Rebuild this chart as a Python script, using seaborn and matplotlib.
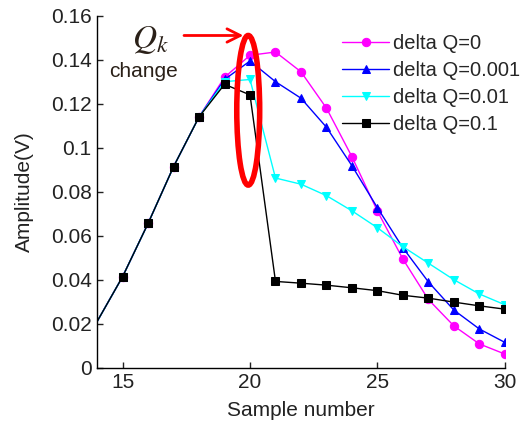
import matplotlib.pyplot as plt
import seaborn as sns
import pandas as pd
import numpy as np
from matplotlib.patches import Ellipse

sns.set_theme(style="white")
plt.rcParams['font.family'] = ['Liberation Sans', 'DejaVu Sans']
plt.rcParams['mathtext.fontset'] = 'stix'

# samples 14..30 (14 is the clipped start at the left edge)
samples = list(range(14, 31))
amp_q0 = [0.021, 0.0414, 0.0656, 0.0914, 0.114, 0.132, 0.142, 0.1435, 0.1345, 0.118, 0.0959,
          0.0712, 0.0494, 0.031, 0.019, 0.0108, 0.0062]
amp_q0001 = [0.021, 0.0414, 0.0656, 0.0914, 0.114, 0.131, 0.1394, 0.130, 0.1225, 0.1093, 0.0918,
             0.0727, 0.0545, 0.039, 0.0262, 0.0176, 0.0115]
amp_q001 = [0.021, 0.0414, 0.0656, 0.0914, 0.114, 0.130, 0.131, 0.0862, 0.0834, 0.0782, 0.0713,
            0.0636, 0.055, 0.0475, 0.040, 0.0335, 0.0286]
amp_q01 = [0.021, 0.0414, 0.0656, 0.0914, 0.114, 0.1288, 0.124, 0.0392, 0.0384, 0.0375, 0.0363,
           0.035, 0.0329, 0.0316, 0.0298, 0.0281, 0.0266]

series_names = ['delta Q=0', 'delta Q=0.001', 'delta Q=0.01', 'delta Q=0.1']
series_vals = [amp_q0, amp_q0001, amp_q001, amp_q01]
colors = ['#FF00FF', '#0000FF', '#00FFFF', '#000000']
markers = ['o', '^', 'v', 's']

fig = plt.figure(figsize=(5.28, 4.30), dpi=100)
ax = fig.add_axes([0.184, 0.145, 0.772, 0.8185])

for name, vals, c, m in zip(series_names, series_vals, colors, markers):
    df = pd.DataFrame({'Sample': samples, 'Amp': vals})
    sns.lineplot(data=df, x='Sample', y='Amp', color=c, marker=m, markersize=6,
                 markeredgecolor=c, linewidth=1.0, label=name, ax=ax,
                 markevery=slice(1, None))

ax.set_xlim(14, 30)
ax.set_ylim(0, 0.16)
ax.set_xticks([15, 20, 25, 30])
ax.set_yticks([0, 0.02, 0.04, 0.06, 0.08, 0.1, 0.12, 0.14, 0.16])
ax.set_yticklabels(['0', '0.02', '0.04', '0.06', '0.08', '0.1', '0.12', '0.14', '0.16'])
ax.tick_params(direction='in', length=4, width=1, labelsize=15, colors='#222222',
               left=True, bottom=True, pad=4)
for s in ['top', 'right']:
    ax.spines[s].set_visible(False)
for s in ['left', 'bottom']:
    ax.spines[s].set_color('black')
    ax.spines[s].set_linewidth(1)
ax.set_xlabel('Sample number', fontsize=15, color='#222222', labelpad=6)
ax.set_ylabel('Amplitude(V)', fontsize=15, color='#222222', labelpad=12)

leg = ax.legend(loc='upper left', bbox_to_anchor=(0.582, 0.972), frameon=False, fontsize=14.5,
                handlelength=2.3, labelspacing=0.4, handletextpad=0.2, borderaxespad=0)

# highlight of the Q_k change at sample 20
ax.add_patch(Ellipse((19.93, 0.117), 0.9, 0.068, fill=False, edgecolor='red', linewidth=4,
                     zorder=5))
ax.annotate('', xy=(19.85, 0.151), xytext=(17.3, 0.151),
            arrowprops=dict(arrowstyle='->', color='red', lw=2, mutation_scale=24), zorder=6)
ax.text(16.1, 0.149, '$Q_k$', fontsize=24, color='#2a2018', ha='center', va='center')
ax.text(15.8, 0.1345, 'change', fontsize=15, color='#2a2018', ha='center', va='center')

fig.savefig('out.png', dpi=100)
